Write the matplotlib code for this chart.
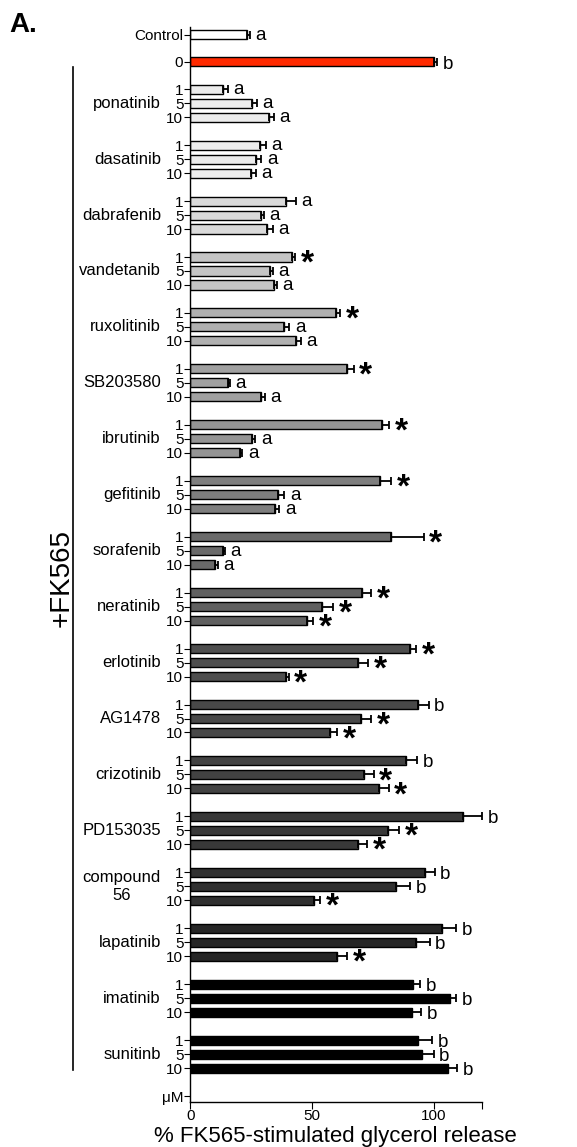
import numpy as np
import matplotlib
matplotlib.use("Agg")
import matplotlib.pyplot as plt
from matplotlib import font_manager
from matplotlib.transforms import blended_transform_factory

# data (% FK565-stimulated glycerol release)
control_mean, control_sem, control_sig = 23.2, 1.2, "a"
fk_mean, fk_sem, fk_sig = 100.0, 1.4, "b"

doses = ["1", "5", "10"]
groups = ["ponatinib", "dasatinib", "dabrafenib", "vandetanib", "ruxolitinib",
          "SB203580", "ibrutinib", "gefitinib", "sorafenib", "neratinib",
          "erlotinib", "AG1478", "crizotinib", "PD153035", "compound\n56",
          "lapatinib", "imatinib", "sunitinb"]
means = [
    [13.3, 25.5, 32.5],
    [28.8, 27.2, 24.8],
    [39.2, 29.1, 31.7],
    [41.8, 32.8, 34.4],
    [59.9, 38.5, 43.5],
    [64.6, 15.4, 29.1],
    [78.7, 25.5, 20.3],
    [77.8, 36.1, 35.0],
    [82.6, 13.6, 10.2],
    [70.6, 54.2, 48.1],
    [90.4, 69.1, 39.4],
    [93.7, 70.2, 57.5],
    [88.5, 71.5, 77.5],
    [112.1, 81.1, 69.0],
    [96.6, 84.5, 50.9],
    [103.4, 92.9, 60.2],
    [91.5, 106.9, 91.2],
    [93.7, 95.2, 105.9],
]
sems = [
    [2.0, 1.9, 1.9],
    [2.2, 2.0, 2.2],
    [4.3, 1.1, 2.2],
    [1.4, 1.0, 1.1],
    [1.6, 2.2, 1.8],
    [2.5, 0.8, 1.6],
    [3.0, 1.2, 1.1],
    [4.7, 2.6, 1.6],
    [13.3, 0.5, 1.0],
    [3.7, 4.4, 2.3],
    [2.5, 4.0, 1.0],
    [4.3, 4.1, 3.0],
    [4.7, 3.8, 4.0],
    [7.8, 4.8, 3.6],
    [3.8, 5.8, 2.5],
    [5.9, 5.5, 4.4],
    [3.0, 2.3, 3.7],
    [5.8, 4.8, 3.7],
]
sigs = [
    ["a", "a", "a"], ["a", "a", "a"], ["a", "a", "a"], ["*", "a", "a"],
    ["*", "a", "a"], ["*", "a", "a"], ["*", "a", "a"], ["*", "a", "a"],
    ["*", "a", "a"], ["*", "*", "*"], ["*", "*", "*"], ["b", "*", "*"],
    ["b", "*", "*"], ["b", "*", "*"], ["b", "b", "*"], ["b", "b", "*"],
    ["b", "b", "b"], ["b", "b", "b"],
]

# bar fill per group (light grey -> black)
group_colors = ["#ececec", "#ececec", "#dadada", "#c4c4c4", "#b0b0b0",
                "#a0a0a0", "#949494", "#7e7e7e", "#6a6a6a", "#606060",
                "#4e4e4e", "#484848", "#424242", "#383838", "#303030",
                "#262626", "#000000", "#000000"]

try:
    font_manager.findfont("Liberation Sans Narrow", fallback_to_default=False)
    fam = "Liberation Sans Narrow"
except Exception:
    fam = "Liberation Sans"
plt.rcParams["font.family"] = [fam, "DejaVu Sans"]

fig = plt.figure(figsize=(5.77, 11.47), dpi=100)
ax = fig.add_axes([0.3298, 0.0395, 0.506, 0.937])

bar_h = 0.65
tick_fs = 11
sig_fs = 13.5
star_fs = 24

def draw(y, m, s, color, sig):
    ax.barh(y, m, height=bar_h, color=color, edgecolor="black", linewidth=1.0, zorder=2)
    ax.errorbar(m, y, xerr=[[0], [s]], fmt="none", ecolor="black",
                elinewidth=1.3, capsize=2.8, capthick=1.3, zorder=3)
    if sig == "*":
        ax.annotate("*", xy=(m + s, y), xytext=(4, -0.47 * star_fs), textcoords="offset points",
                    ha="left", va="baseline", fontsize=star_fs, fontweight="bold")
    else:
        off = 0.27 if sig == "a" else 0.36
        ax.annotate(sig, xy=(m + s, y), xytext=(4, -off * sig_fs), textcoords="offset points",
                    ha="left", va="baseline", fontsize=sig_fs)

ypos, ylabels = [], []
draw(-3.9, control_mean, control_sem, "white", control_sig)
ypos.append(-3.9); ylabels.append("Control")
draw(-1.95, fk_mean, fk_sem, "#ff2a00", fk_sig)
ypos.append(-1.95); ylabels.append("0")

trans = blended_transform_factory(fig.transFigure, ax.transData)
for g, name in enumerate(groups):
    for d in range(3):
        y = 4 * g + d
        draw(y, means[g][d], sems[g][d], group_colors[g], sigs[g][d])
        ypos.append(y); ylabels.append(doses[d])
    ax.text(0.279, 4 * g + 1, name, transform=trans, ha="right", va="center",
            multialignment="center", fontsize=12)
ypos.append(72); ylabels.append("\u03bcM")

ax.set_yticks(ypos)
ax.set_yticklabels(ylabels, fontsize=tick_fs)
ax.set_ylim(72.4, -4.45)
ax.set_xlim(0, 120)
ax.set_xticks([0, 50, 100, 120])
ax.set_xticklabels(["0", "50", "100", ""], fontsize=tick_fs)
ax.tick_params(axis="y", length=4, width=0.8, pad=1)
ax.tick_params(axis="x", length=5, width=0.8, pad=0)
for side in ["top", "right"]:
    ax.spines[side].set_visible(False)
ax.spines["left"].set_linewidth(1.0)
ax.spines["bottom"].set_linewidth(1.0)

# +FK565 bracket line
ax.plot([0.126, 0.126], [-1.6, 70.1], color="black", lw=1.2, transform=trans, clip_on=False)
fig.text(0.1075, 0.496, "+FK565", rotation=90, ha="center", va="center", fontsize=20)

fig.text(0.582, 0.0, "% FK565-stimulated glycerol release", ha="center", va="bottom", fontsize=16)
fig.text(0.017, 0.9895, "A.", ha="left", va="top", fontsize=20, fontweight="bold",
         family=["Liberation Sans", "DejaVu Sans"])

fig.savefig("out.png", dpi=100)
